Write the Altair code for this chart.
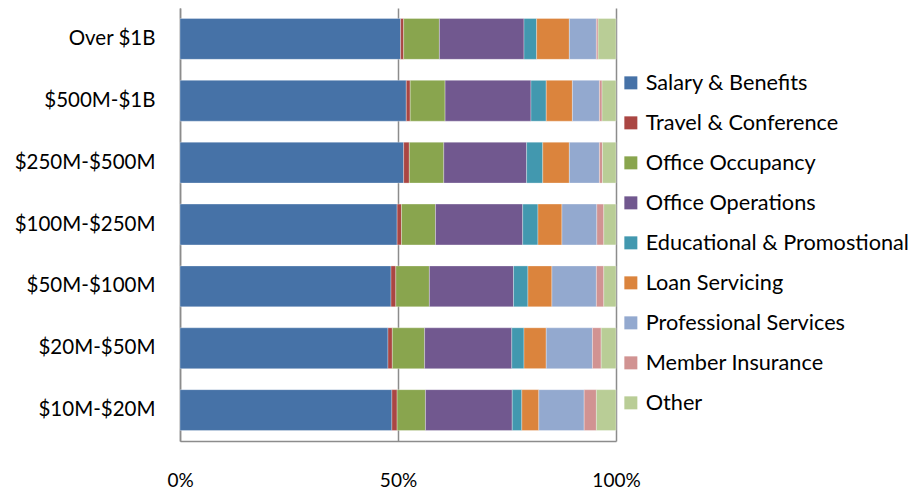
import altair as alt
import pandas as pd

tiers = ["Over $1B", "$500M-$1B", "$250M-$500M", "$100M-$250M",
         "$50M-$100M", "$20M-$50M", "$10M-$20M"]

expense_types = ["Salary & Benefits", "Travel & Conference", "Office Occupancy",
                 "Office Operations", "Educational & Promostional", "Loan Servicing",
                 "Professional Services", "Member Insurance", "Other"]

colors = ["#4672A7", "#AA4643", "#89A54E", "#71588F", "#4298AF",
          "#DB843D", "#93A9CF", "#D19392", "#B9CD96"]

# share (%) of each expense type, per asset tier (rows follow `tiers`)
salary        = [50.6, 51.9, 51.3, 49.8, 48.4, 47.7, 48.6]
travel        = [0.7, 0.9, 1.3, 1.0, 1.1, 1.0, 1.2]
occupancy     = [8.2, 8.0, 7.9, 7.8, 7.7, 7.4, 6.5]
operations    = [19.4, 19.7, 19.0, 20.0, 19.3, 20.0, 19.9]
educational   = [2.9, 3.5, 3.7, 3.5, 3.3, 2.8, 2.2]
loan          = [7.5, 6.0, 6.1, 5.5, 5.5, 5.1, 3.9]
professional  = [6.2, 6.2, 6.9, 8.0, 10.2, 10.6, 10.4]
insurance     = [0.4, 0.6, 0.7, 1.6, 1.7, 2.0, 2.8]
other         = [4.1, 3.2, 3.1, 2.8, 2.8, 3.4, 4.5]

series = [salary, travel, occupancy, operations, educational, loan,
          professional, insurance, other]

rows = []
for k, (name, vals) in enumerate(zip(expense_types, series)):
    for tier, v in zip(tiers, vals):
        rows.append({"tier": tier, "type": name, "value": v, "order": k})
df = pd.DataFrame(rows)

FONT = "Lato"
GRAY = "#8c8c8c"

chart = alt.Chart(df).mark_bar(stroke="white", strokeWidth=0.5, strokeOpacity=0.6).encode(
    y=alt.Y("tier:N", sort=tiers, title=None,
            scale=alt.Scale(paddingInner=0.34, paddingOuter=0.17),
            axis=alt.Axis(labelFontSize=20.5, labelFont=FONT, labelColor="#000000",
                          labelPadding=25, ticks=False, domainColor=GRAY,
                          domainWidth=1.5, grid=False)),
    x=alt.X("value:Q", stack="normalize", title=None,
            scale=alt.Scale(domain=[0, 1], nice=False),
            axis=alt.Axis(values=[0, 0.5, 1], format=".0%", labelFontSize=19,
                          labelFont=FONT, labelColor="#000000", labelPadding=30,
                          ticks=False, grid=True, gridColor=GRAY, gridWidth=1.5,
                          domainColor=GRAY, domainWidth=1.5, labelFlush=False)),
    color=alt.Color("type:N", title=None,
                    scale=alt.Scale(domain=expense_types, range=colors),
                    legend=alt.Legend(orient="none", legendX=440, legendY=64,
                                      symbolType="square", symbolSize=169,
                                      symbolStrokeWidth=0, labelFont=FONT,
                                      labelFontSize=21.7, labelColor="#000000",
                                      labelOffset=4, rowPadding=17,
                                      labelLimit=400)),
    order=alt.Order("order:Q", sort="ascending"),
).properties(
    width=436, height=433,
    autosize=alt.AutoSizeParams(type="none"),
    padding={"left": 172, "top": 0, "right": 295, "bottom": 48},
).configure_view(stroke=None)

chart.save("out.html", embed_options={"renderer": "svg", "actions": False})
